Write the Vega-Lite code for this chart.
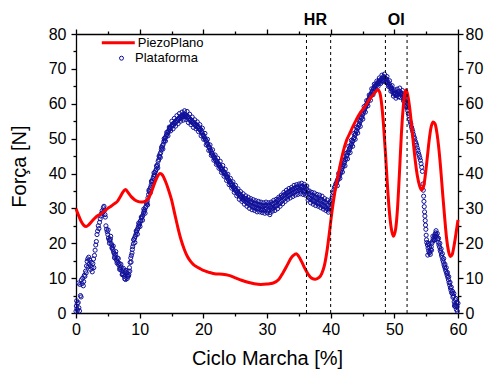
{
  "$schema": "https://vega.github.io/schema/vega-lite/v6.json",
  "autosize": {"type": "none"},
  "padding": {"left": 76, "top": 34, "right": 27, "bottom": 57},
  "width": 382,
  "height": 279,
  "background": "white",
  "config": {
    "view": {"stroke": null},
    "axis": {"domainColor": "black", "tickColor": "black", "labelColor": "black", "titleColor": "black", "labelFont": "Liberation Sans", "titleFont": "Liberation Sans", "labelFontSize": 16, "titleFontSize": 20, "titleFontWeight": "normal", "grid": false, "domainWidth": 1.3, "tickWidth": 1.3, "labelFlush": false, "labelOverlap": false},
    "legend": {"labelFont": "Liberation Sans", "labelFontSize": 13, "labelColor": "black", "padding": 0, "offset": 0}
  },
  "datasets": {
    "blue": [
{"x":0,"y":0.5},{"x":0.05,"y":2},{"x":0.1,"y":3.5},{"x":0.15,"y":1.2},{"x":0.2,"y":2.8},{"x":0.25,"y":0.8},{"x":0.35,"y":3},{"x":0.4,"y":8.6},{"x":0.45,"y":1.5},{"x":0.55,"y":0.6},{"x":0.6,"y":8.2},{"x":0.7,"y":5},{"x":0.8,"y":4.6},{"x":0.85,"y":9.5},{"x":0.95,"y":8.4},{"x":1.05,"y":10},{"x":1.15,"y":7.8},{"x":1.2,"y":9},{"x":1.3,"y":10.8},{"x":1.4,"y":10.5},{"x":1.5,"y":12},{"x":1.6,"y":11.5},{"x":1.65,"y":13.5},{"x":1.75,"y":14.8},{"x":1.85,"y":15.5},{"x":1.9,"y":13.2},{"x":2,"y":16},{"x":2.05,"y":14},{"x":2.15,"y":15.2},{"x":2.25,"y":13.5},{"x":2.3,"y":12.5},{"x":2.4,"y":14.5},{"x":2.5,"y":13},{"x":2.55,"y":11.8},{"x":2.65,"y":14.2},{"x":2.75,"y":15.5},{"x":2.8,"y":13},{"x":2.9,"y":16.5},{"x":3,"y":18},{"x":3.1,"y":19.5},{"x":3.2,"y":20.5},{"x":3.3,"y":22.5},{"x":3.4,"y":23.5},{"x":3.5,"y":25},{"x":3.6,"y":24.2},{"x":3.7,"y":26},{"x":3.8,"y":27},{"x":3.9,"y":27.8},{"x":4,"y":28.5},{"x":4.1,"y":29.3},{"x":4.2,"y":28.8},{"x":4.3,"y":30.2},{"x":4.4,"y":30.6},{"x":4.5,"y":29.5},{"x":4.55,"y":28.2},{"x":4.6,"y":27.5},{"x":4.7,"y":25},{"x":4.8,"y":24},{"x":4.9,"y":23.3},{"x":5,"y":22.5},{"x":5.1,"y":21.5},{"x":5.2,"y":21},{"x":5.3,"y":20.8},{"x":5.4,"y":21.2},{"x":5.5,"y":20},{"x":5.6,"y":19.5},{"x":5.7,"y":18.8},{"x":5.8,"y":18.2},{"x":5.9,"y":17.5},{"x":6,"y":17},{"x":6.1,"y":16.2},{"x":6.2,"y":16.8},{"x":6.3,"y":15.5},{"x":6.4,"y":15},{"x":6.5,"y":15.8},{"x":6.6,"y":14.5},{"x":6.7,"y":13.8},{"x":6.8,"y":14.2},{"x":6.9,"y":13},{"x":7,"y":12.5},{"x":7.1,"y":13.2},{"x":7.2,"y":12},{"x":7.3,"y":11.2},{"x":7.4,"y":12.3},{"x":7.5,"y":11},{"x":7.6,"y":10.5},{"x":7.7,"y":11.8},{"x":7.8,"y":9.6},{"x":7.9,"y":10.8},{"x":8,"y":11.5},{"x":8.1,"y":10.5},{"x":8.2,"y":12},{"x":8.3,"y":11},{"x":8.4,"y":13},{"x":8.5,"y":14.5},{"x":8.6,"y":15.8},{"x":8.7,"y":16.5},{"x":8.8,"y":17.2},{"x":8.9,"y":19},{"x":9,"y":19.8},{"x":9.1,"y":21},{"x":9.2,"y":21.5},{"x":9.3,"y":22},{"x":9.4,"y":22.5},{"x":9.5,"y":23.2},{"x":9.6,"y":23.8},{"x":9.7,"y":24.2},{"x":9.8,"y":24.8},{"x":9.9,"y":25.2},{"x":10,"y":25.6},{"x":10.1,"y":26.3},{"x":10.2,"y":26.5},{"x":10.3,"y":27.2},{"x":10.4,"y":27.6},{"x":10.5,"y":28},{"x":10.6,"y":28.7},{"x":10.7,"y":29.2},{"x":10.8,"y":29.5},{"x":10.9,"y":30.2},{"x":11,"y":30.6},{"x":11.1,"y":31.3},{"x":11.2,"y":32},{"x":11.3,"y":33},{"x":11.4,"y":34},{"x":11.5,"y":34.8},{"x":11.6,"y":35.5},{"x":11.7,"y":36},{"x":11.8,"y":36.7},{"x":11.9,"y":37.5},{"x":12,"y":38},{"x":12.1,"y":38.6},{"x":12.2,"y":39.2},{"x":12.3,"y":39.6},{"x":12.4,"y":40.3},{"x":12.5,"y":40.7},{"x":12.6,"y":41.2},{"x":12.7,"y":42},{"x":12.8,"y":42.5},{"x":12.9,"y":43.5},{"x":13,"y":44},{"x":13.1,"y":44.8},{"x":13.2,"y":45.6},{"x":13.3,"y":46},{"x":13.4,"y":46.8},{"x":13.5,"y":47.3},{"x":13.6,"y":48},{"x":13.7,"y":48.4},{"x":13.8,"y":49.2},{"x":13.9,"y":49.6},{"x":14,"y":50.2},{"x":14.1,"y":50.5},{"x":14.2,"y":51},{"x":14.3,"y":51.2},{"x":14.4,"y":51.8},{"x":14.5,"y":52},{"x":14.6,"y":52.5},{"x":14.7,"y":52.8},{"x":14.8,"y":53.2},{"x":14.9,"y":53},{"x":15,"y":53.6},{"x":15.1,"y":53.9},{"x":15.2,"y":54.2},{"x":15.3,"y":53.8},{"x":15.4,"y":54.5},{"x":15.5,"y":54.3},{"x":15.6,"y":55},{"x":15.7,"y":54.6},{"x":15.8,"y":55.3},{"x":15.9,"y":55.1},{"x":16,"y":55.6},{"x":16.1,"y":55.4},{"x":16.2,"y":56},{"x":16.3,"y":55.7},{"x":16.4,"y":56.3},{"x":16.5,"y":56},{"x":16.6,"y":56.6},{"x":16.7,"y":56.2},{"x":16.8,"y":56.8},{"x":16.9,"y":56.4},{"x":17,"y":57.1},{"x":17.1,"y":56.5},{"x":17.2,"y":56.9},{"x":17.3,"y":56.3},{"x":17.4,"y":56.7},{"x":17.5,"y":55.9},{"x":17.6,"y":56.3},{"x":17.7,"y":55.6},{"x":17.8,"y":55.9},{"x":17.9,"y":55.2},{"x":18,"y":55.5},{"x":18.1,"y":54.8},{"x":18.2,"y":55.1},{"x":18.3,"y":54.5},{"x":18.4,"y":54.8},{"x":18.5,"y":54.2},{"x":18.6,"y":54.5},{"x":18.7,"y":53.8},{"x":18.8,"y":54.1},{"x":18.9,"y":53.5},{"x":19,"y":53.9},{"x":19.1,"y":53.2},{"x":19.2,"y":53.5},{"x":19.3,"y":52.8},{"x":19.4,"y":53},{"x":19.5,"y":52.4},{"x":19.6,"y":52.6},{"x":19.7,"y":51.8},{"x":19.8,"y":51.9},{"x":19.9,"y":51.2},{"x":20,"y":51},{"x":20.1,"y":50.6},{"x":20.2,"y":50.2},{"x":20.3,"y":49.9},{"x":20.4,"y":49.5},{"x":20.5,"y":49.3},{"x":20.6,"y":48.7},{"x":20.7,"y":48.4},{"x":20.8,"y":47.8},{"x":20.9,"y":47.6},{"x":21,"y":47.2},{"x":21.1,"y":46.7},{"x":21.2,"y":46.5},{"x":21.3,"y":45.9},{"x":21.4,"y":45.7},{"x":21.5,"y":45.2},{"x":21.6,"y":45},{"x":21.7,"y":44.4},{"x":21.8,"y":44.6},{"x":21.9,"y":43.9},{"x":22,"y":43.8},{"x":22.1,"y":43.2},{"x":22.2,"y":43.4},{"x":22.3,"y":42.7},{"x":22.4,"y":42.8},{"x":22.5,"y":42.2},{"x":22.6,"y":42.3},{"x":22.7,"y":41.6},{"x":22.8,"y":41.7},{"x":22.9,"y":41},{"x":23,"y":41.2},{"x":23.1,"y":40.5},{"x":23.2,"y":40.6},{"x":23.3,"y":40},{"x":23.4,"y":40.2},{"x":23.5,"y":39.5},{"x":23.6,"y":39.6},{"x":23.7,"y":38.9},{"x":23.8,"y":39},{"x":23.9,"y":38.3},{"x":24,"y":38.2},{"x":24.1,"y":37.6},{"x":24.2,"y":37.7},{"x":24.3,"y":37},{"x":24.4,"y":37.2},{"x":24.5,"y":36.5},{"x":24.6,"y":36.8},{"x":24.7,"y":36},{"x":24.8,"y":36.2},{"x":24.9,"y":35.4},{"x":25,"y":35.8},{"x":25.1,"y":35},{"x":25.2,"y":35.2},{"x":25.3,"y":34.4},{"x":25.4,"y":34.8},{"x":25.5,"y":34},{"x":25.6,"y":34.3},{"x":25.7,"y":33.5},{"x":25.8,"y":33.9},{"x":25.9,"y":33.2},{"x":26,"y":33.6},{"x":26.1,"y":32.7},{"x":26.2,"y":33.3},{"x":26.3,"y":32.4},{"x":26.4,"y":33},{"x":26.5,"y":32.1},{"x":26.6,"y":32.8},{"x":26.7,"y":31.8},{"x":26.8,"y":32.5},{"x":26.9,"y":31.5},{"x":27,"y":32.4},{"x":27.1,"y":31.2},{"x":27.2,"y":32.3},{"x":27.3,"y":31},{"x":27.4,"y":31.8},{"x":27.5,"y":30.8},{"x":27.6,"y":31.9},{"x":27.7,"y":30.5},{"x":27.8,"y":31.6},{"x":27.9,"y":30.3},{"x":28,"y":31.5},{"x":28.1,"y":30.1},{"x":28.2,"y":31.4},{"x":28.3,"y":30},{"x":28.4,"y":31.2},{"x":28.5,"y":29.8},{"x":28.6,"y":31},{"x":28.7,"y":30},{"x":28.8,"y":31.1},{"x":28.9,"y":29.7},{"x":29,"y":30.8},{"x":29.1,"y":29.5},{"x":29.2,"y":30.9},{"x":29.3,"y":29.8},{"x":29.4,"y":30.6},{"x":29.5,"y":29.4},{"x":29.6,"y":30.8},{"x":29.7,"y":29.6},{"x":29.8,"y":31},{"x":29.9,"y":29.8},{"x":30,"y":30.7},{"x":30.1,"y":29.3},{"x":30.2,"y":30.9},{"x":30.3,"y":29.5},{"x":30.4,"y":31},{"x":30.5,"y":28.8},{"x":30.6,"y":30.5},{"x":30.7,"y":29.8},{"x":30.8,"y":31.3},{"x":30.9,"y":30},{"x":31,"y":31.4},{"x":31.1,"y":30.2},{"x":31.2,"y":31.6},{"x":31.3,"y":30.5},{"x":31.4,"y":31.8},{"x":31.5,"y":30.7},{"x":31.6,"y":32.2},{"x":31.7,"y":31},{"x":31.8,"y":32.5},{"x":31.9,"y":31.3},{"x":32,"y":32.8},{"x":32.1,"y":31.6},{"x":32.2,"y":33.1},{"x":32.3,"y":32},{"x":32.4,"y":33.4},{"x":32.5,"y":32.3},{"x":32.6,"y":33.8},{"x":32.7,"y":32.7},{"x":32.8,"y":34},{"x":32.9,"y":33},{"x":33,"y":34.3},{"x":33.1,"y":33.2},{"x":33.2,"y":34.5},{"x":33.3,"y":33.6},{"x":33.4,"y":34.8},{"x":33.5,"y":33.8},{"x":33.6,"y":35},{"x":33.7,"y":34},{"x":33.8,"y":35.2},{"x":33.9,"y":34.3},{"x":34,"y":35.4},{"x":34.1,"y":34.5},{"x":34.2,"y":35.7},{"x":34.3,"y":34.6},{"x":34.4,"y":35.9},{"x":34.5,"y":34.8},{"x":34.6,"y":36},{"x":34.7,"y":35},{"x":34.8,"y":36.2},{"x":34.9,"y":35.1},{"x":35,"y":35.8},{"x":35.1,"y":35.3},{"x":35.2,"y":36.4},{"x":35.3,"y":35},{"x":35.4,"y":36.1},{"x":35.5,"y":35.3},{"x":35.6,"y":36.3},{"x":35.7,"y":34.8},{"x":35.8,"y":35.9},{"x":35.9,"y":35.1},{"x":36,"y":36.2},{"x":36.1,"y":34.6},{"x":36.2,"y":35.5},{"x":36.3,"y":34},{"x":36.4,"y":35},{"x":36.5,"y":33.2},{"x":36.6,"y":34.3},{"x":36.7,"y":32.8},{"x":36.8,"y":33.9},{"x":36.9,"y":32.5},{"x":37,"y":33.6},{"x":37.1,"y":32.3},{"x":37.2,"y":33.8},{"x":37.3,"y":32.1},{"x":37.4,"y":33.5},{"x":37.5,"y":31.9},{"x":37.6,"y":33.2},{"x":37.7,"y":31.7},{"x":37.8,"y":33},{"x":37.9,"y":31.5},{"x":38,"y":32.8},{"x":38.1,"y":31.4},{"x":38.2,"y":33},{"x":38.3,"y":31.2},{"x":38.4,"y":32.5},{"x":38.5,"y":31},{"x":38.6,"y":32.6},{"x":38.7,"y":30.8},{"x":38.8,"y":32.2},{"x":38.9,"y":30.6},{"x":39,"y":31.9},{"x":39.1,"y":30.4},{"x":39.2,"y":31.7},{"x":39.3,"y":30.1},{"x":39.4,"y":31.5},{"x":39.5,"y":29.8},{"x":39.6,"y":31},{"x":39.7,"y":29.5},{"x":39.8,"y":30.4},{"x":39.9,"y":29.9},{"x":40,"y":31.5},{"x":40.1,"y":32.2},{"x":40.2,"y":33},{"x":40.3,"y":33.8},{"x":40.4,"y":34.5},{"x":40.5,"y":35.3},{"x":40.6,"y":36},{"x":40.7,"y":36.3},{"x":40.8,"y":37},{"x":40.9,"y":37.2},{"x":41,"y":37.8},{"x":41.1,"y":38.2},{"x":41.2,"y":38.6},{"x":41.3,"y":39.1},{"x":41.4,"y":39.5},{"x":41.5,"y":40},{"x":41.6,"y":40.4},{"x":41.7,"y":41},{"x":41.8,"y":41.5},{"x":41.9,"y":42},{"x":42,"y":42.4},{"x":42.1,"y":43},{"x":42.2,"y":43.4},{"x":42.3,"y":44},{"x":42.4,"y":44.3},{"x":42.5,"y":45},{"x":42.6,"y":45.3},{"x":42.7,"y":46},{"x":42.8,"y":46.3},{"x":42.9,"y":46.8},{"x":43,"y":47.2},{"x":43.1,"y":47.6},{"x":43.2,"y":48.2},{"x":43.3,"y":48.5},{"x":43.4,"y":49.1},{"x":43.5,"y":49.4},{"x":43.6,"y":50},{"x":43.7,"y":50.3},{"x":43.8,"y":51},{"x":43.9,"y":51.3},{"x":44,"y":52},{"x":44.1,"y":52.3},{"x":44.2,"y":52.9},{"x":44.3,"y":53.2},{"x":44.4,"y":53.8},{"x":44.5,"y":54.2},{"x":44.6,"y":54.8},{"x":44.7,"y":55.2},{"x":44.8,"y":55.9},{"x":44.9,"y":56.2},{"x":45,"y":56.8},{"x":45.1,"y":57.3},{"x":45.2,"y":57.8},{"x":45.3,"y":58.3},{"x":45.4,"y":58.8},{"x":45.5,"y":59.1},{"x":45.6,"y":59.7},{"x":45.7,"y":60},{"x":45.8,"y":60.5},{"x":45.9,"y":60.9},{"x":46,"y":61.3},{"x":46.1,"y":61.8},{"x":46.2,"y":62.2},{"x":46.3,"y":62.6},{"x":46.4,"y":63},{"x":46.5,"y":63.5},{"x":46.6,"y":63.7},{"x":46.7,"y":64.2},{"x":46.8,"y":64.5},{"x":46.9,"y":64.9},{"x":47,"y":65.1},{"x":47.1,"y":65.5},{"x":47.2,"y":65.2},{"x":47.3,"y":65.8},{"x":47.4,"y":66.1},{"x":47.5,"y":65.7},{"x":47.6,"y":66.4},{"x":47.7,"y":66.7},{"x":47.8,"y":66.2},{"x":47.9,"y":66.9},{"x":48,"y":67.2},{"x":48.1,"y":66.6},{"x":48.2,"y":67.4},{"x":48.3,"y":67.8},{"x":48.4,"y":67},{"x":48.5,"y":67.6},{"x":48.6,"y":67.3},{"x":48.7,"y":66.5},{"x":48.8,"y":67},{"x":48.9,"y":66},{"x":49,"y":66.3},{"x":49.1,"y":65.4},{"x":49.2,"y":65.7},{"x":49.3,"y":64.8},{"x":49.4,"y":65},{"x":49.5,"y":64.2},{"x":49.6,"y":64.4},{"x":49.7,"y":63.5},{"x":49.8,"y":63.8},{"x":49.9,"y":62.9},{"x":50,"y":63.2},{"x":50.1,"y":62.6},{"x":50.2,"y":62.9},{"x":50.3,"y":62.3},{"x":50.4,"y":63},{"x":50.5,"y":62.7},{"x":50.6,"y":63.5},{"x":50.7,"y":62.8},{"x":50.8,"y":63.6},{"x":50.9,"y":62.9},{"x":51,"y":63.3},{"x":51.1,"y":62.5},{"x":51.2,"y":62.9},{"x":51.3,"y":61.9},{"x":51.4,"y":62.3},{"x":51.5,"y":61.3},{"x":51.6,"y":61.5},{"x":51.7,"y":60.6},{"x":51.8,"y":60.2},{"x":51.9,"y":59.5},{"x":52,"y":58.8},{"x":52.1,"y":58},{"x":52.2,"y":57.2},{"x":52.3,"y":56.5},{"x":52.4,"y":55.6},{"x":52.5,"y":54.8},{"x":52.6,"y":54.2},{"x":52.7,"y":53.3},{"x":52.8,"y":52.7},{"x":52.9,"y":52},{"x":53,"y":51.2},{"x":53.1,"y":50.5},{"x":53.2,"y":50},{"x":53.3,"y":49.2},{"x":53.4,"y":48.7},{"x":53.5,"y":48.1},{"x":53.6,"y":47.3},{"x":53.7,"y":46.6},{"x":53.8,"y":45.8},{"x":53.9,"y":45.2},{"x":54,"y":44.5},{"x":54.1,"y":43.8},{"x":54.2,"y":42.8},{"x":54.3,"y":41.8},{"x":54.4,"y":40.6},{"x":54.5,"y":37},{"x":54.55,"y":35.2},{"x":54.6,"y":33.5},{"x":54.65,"y":32},{"x":54.7,"y":30.5},{"x":54.75,"y":29},{"x":54.8,"y":27.8},{"x":54.85,"y":26.5},{"x":54.9,"y":25.2},{"x":54.95,"y":24},{"x":55,"y":22.3},{"x":55.05,"y":21},{"x":55.1,"y":20.2},{"x":55.2,"y":19.5},{"x":55.3,"y":18.6},{"x":55.35,"y":20},{"x":55.4,"y":17.8},{"x":55.5,"y":17.2},{"x":55.55,"y":18.8},{"x":55.6,"y":17.5},{"x":55.7,"y":18.2},{"x":55.8,"y":19},{"x":55.9,"y":20},{"x":56,"y":20.6},{"x":56.1,"y":21.3},{"x":56.2,"y":20.8},{"x":56.3,"y":22},{"x":56.4,"y":22.6},{"x":56.5,"y":23},{"x":56.6,"y":22.4},{"x":56.7,"y":21.8},{"x":56.8,"y":21.2},{"x":56.9,"y":20.3},{"x":57,"y":19.5},{"x":57.1,"y":18.9},{"x":57.2,"y":18},{"x":57.3,"y":17.5},{"x":57.4,"y":16.6},{"x":57.5,"y":16},{"x":57.6,"y":15.2},{"x":57.7,"y":14.6},{"x":57.8,"y":13.8},{"x":57.9,"y":13.2},{"x":58,"y":12.6},{"x":58.1,"y":12},{"x":58.2,"y":11.4},{"x":58.3,"y":10.8},{"x":58.4,"y":10.2},{"x":58.5,"y":9.5},{"x":58.6,"y":8.7},{"x":58.7,"y":8},{"x":58.8,"y":7.2},{"x":58.9,"y":6.5},{"x":59,"y":5.8},{"x":59.1,"y":5.5},{"x":59.2,"y":4.5},{"x":59.3,"y":4.8},{"x":59.4,"y":3.2},{"x":59.5,"y":2.5},{"x":59.55,"y":3.8},{"x":59.6,"y":1.8},{"x":59.7,"y":2.2},{"x":59.75,"y":1},{"x":59.8,"y":3},{"x":59.9,"y":0.5},{"x":60,"y":2.8},
{"x":5.05,"y":23.8},{"x":5.25,"y":20},{"x":5.45,"y":22},{"x":5.65,"y":18.6},{"x":5.85,"y":19.2},{"x":6.05,"y":15.8},{"x":6.25,"y":17.6},{"x":6.45,"y":14.3},{"x":6.65,"y":15.6},{"x":6.85,"y":12.5},{"x":7.05,"y":14},{"x":7.25,"y":11},{"x":7.45,"y":12.8},{"x":7.65,"y":9.8},{"x":7.85,"y":12.2},{"x":8.05,"y":9.9},{"x":8.25,"y":10.6},{"x":8.45,"y":12},{"x":8.65,"y":14.6},{"x":8.85,"y":18.2},{"x":9.05,"y":21},{"x":9.25,"y":20.2},{"x":9.45,"y":23.5},{"x":9.65,"y":22.6},{"x":9.85,"y":25.8},{"x":10.05,"y":24.8},{"x":10.25,"y":27.5},{"x":10.45,"y":26.6},{"x":10.65,"y":29.8},{"x":10.85,"y":28.6},{"x":11.05,"y":31.8},{"x":11.25,"y":31},{"x":11.45,"y":35.2},{"x":11.65,"y":34.4},{"x":11.85,"y":37.8},{"x":12.05,"y":37},{"x":12.25,"y":40.2},{"x":12.45,"y":39.4},{"x":12.65,"y":42.2},{"x":12.85,"y":41.6},{"x":13.05,"y":45},{"x":13.25,"y":44.6},{"x":13.45,"y":47.6},{"x":13.65,"y":47},{"x":13.85,"y":50},{"x":14.05,"y":49.3},{"x":14.25,"y":51.8},{"x":14.45,"y":50.8},{"x":14.65,"y":53.3},{"x":14.85,"y":52.2},
{"x":15.05,"y":55},{"x":15.25,"y":52.8},{"x":15.45,"y":55.8},{"x":15.65,"y":53.6},{"x":15.85,"y":56.6},{"x":16.05,"y":54.3},{"x":16.25,"y":57.2},{"x":16.45,"y":55},{"x":16.65,"y":57.6},{"x":16.85,"y":55.3},{"x":17.05,"y":58},{"x":17.25,"y":55.5},{"x":17.45,"y":57.8},{"x":17.65,"y":54.6},{"x":17.85,"y":57},{"x":18.05,"y":54},{"x":18.25,"y":56.2},{"x":18.45,"y":53.2},{"x":18.65,"y":55.4},{"x":18.85,"y":52.8},{"x":19.05,"y":54.8},{"x":19.25,"y":52},{"x":19.45,"y":54},{"x":19.65,"y":50.8},{"x":19.85,"y":53},{"x":20.05,"y":49.8},{"x":20.25,"y":51.5},{"x":20.45,"y":48.2},{"x":20.65,"y":49.8},{"x":20.85,"y":46.6},{"x":21.05,"y":48.2},{"x":21.25,"y":45.2},{"x":21.45,"y":46.8},{"x":21.65,"y":43.8},{"x":21.85,"y":45.3},{"x":22.05,"y":42.6},{"x":22.25,"y":44.4},{"x":22.45,"y":41.5},{"x":22.65,"y":43.5},{"x":22.85,"y":40.3},{"x":23.05,"y":42.3},{"x":23.25,"y":39.2},{"x":23.45,"y":41.2},{"x":23.65,"y":38},{"x":23.85,"y":39.8},{"x":24.05,"y":36.8},{"x":24.25,"y":38.6},{"x":24.45,"y":35.8},{"x":24.65,"y":37.6},{"x":24.85,"y":34.6},{"x":25.05,"y":36.6},{"x":25.25,"y":33.6},{"x":25.45,"y":35.6},{"x":25.65,"y":32.6},{"x":25.85,"y":34.8},{"x":26.05,"y":32},{"x":26.25,"y":34.2},{"x":26.45,"y":31.2},{"x":26.65,"y":33.6},{"x":26.85,"y":30.6},{"x":27.05,"y":33.2},{"x":27.25,"y":30},{"x":27.45,"y":32.8},{"x":27.65,"y":29.6},{"x":27.85,"y":32.5},{"x":28.05,"y":29.4},{"x":28.25,"y":32.2},{"x":28.45,"y":29},{"x":28.65,"y":32},{"x":28.85,"y":29},{"x":29.05,"y":31.8},{"x":29.25,"y":28.8},{"x":29.45,"y":31.6},{"x":29.65,"y":28.6},{"x":29.85,"y":31.8},{"x":30.05,"y":28.7},{"x":30.25,"y":31.6},{"x":30.45,"y":28.2},{"x":30.65,"y":31.8},{"x":30.85,"y":29.2},{"x":31.05,"y":32.3},{"x":31.25,"y":29.4},{"x":31.45,"y":32.6},{"x":31.65,"y":29.9},{"x":31.85,"y":33.2},{"x":32.05,"y":30.6},{"x":32.25,"y":33.8},{"x":32.45,"y":31.3},{"x":32.65,"y":34.6},{"x":32.85,"y":32},{"x":33.05,"y":35.2},{"x":33.25,"y":32.6},{"x":33.45,"y":35.7},{"x":33.65,"y":33},{"x":33.85,"y":36},{"x":34.05,"y":33.4},{"x":34.25,"y":36.6},{"x":34.45,"y":33.8},{"x":34.65,"y":36.8},{"x":34.85,"y":34},{"x":35.05,"y":37},{"x":35.25,"y":34.2},{"x":35.45,"y":37.2},{"x":35.65,"y":34},{"x":35.85,"y":36.9},{"x":36.05,"y":33.8},{"x":36.25,"y":36.4},{"x":36.45,"y":32.4},{"x":36.65,"y":35},{"x":36.85,"y":31.6},{"x":37.05,"y":34.6},{"x":37.25,"y":31.2},{"x":37.45,"y":34.4},{"x":37.65,"y":30.8},{"x":37.85,"y":34},{"x":38.05,"y":30.6},{"x":38.25,"y":33.8},{"x":38.45,"y":30.2},{"x":38.65,"y":33.5},{"x":38.85,"y":29.8},{"x":39.05,"y":32.8},{"x":39.25,"y":29.4},{"x":39.45,"y":32.4},{"x":39.65,"y":28.9},{"x":39.85,"y":31.8},{"x":40.05,"y":30.2},
{"x":41.05,"y":36.5},{"x":41.25,"y":40},{"x":41.45,"y":38.6},{"x":41.65,"y":41.8},{"x":41.85,"y":40.4},{"x":42.05,"y":43.8},{"x":42.25,"y":42.2},{"x":42.45,"y":45.8},{"x":42.65,"y":44.2},{"x":42.85,"y":47.8},{"x":43.05,"y":46},{"x":43.25,"y":49.5},{"x":43.45,"y":47.8},{"x":43.65,"y":51.5},{"x":43.85,"y":49.8},{"x":44.05,"y":53.3},{"x":44.25,"y":51.6},{"x":44.45,"y":55.3},{"x":44.65,"y":53.5},{"x":44.85,"y":57.3},{"x":45.05,"y":55.6},{"x":45.25,"y":59.2},{"x":45.45,"y":57.6},{"x":45.65,"y":60.9},{"x":45.85,"y":59.4},{"x":46.05,"y":62.5},{"x":46.25,"y":61},{"x":46.45,"y":64.3},{"x":46.65,"y":62.6},{"x":46.85,"y":65.6},{"x":47.05,"y":64},{"x":47.25,"y":66.5},{"x":47.45,"y":65},{"x":47.65,"y":67.4},{"x":47.85,"y":65.8},{"x":48.05,"y":68.2},{"x":48.25,"y":66.4},{"x":48.45,"y":68.5},{"x":48.65,"y":66.2},{"x":48.85,"y":67.8},{"x":49.05,"y":65},{"x":49.25,"y":66.6},{"x":49.45,"y":63.6},{"x":49.65,"y":65.2},{"x":49.85,"y":62.2},{"x":50.05,"y":64},{"x":50.25,"y":61.6},{"x":50.45,"y":64.2},{"x":50.65,"y":62},{"x":50.85,"y":64.5},{"x":50.95,"y":61.8},{"x":51.25,"y":63.8},{"x":51.45,"y":60.8},{"x":51.65,"y":62.4},{"x":51.85,"y":59.2},{"x":52.05,"y":60},
{"x":55.25,"y":16.6},{"x":55.45,"y":19.6},{"x":55.65,"y":16.8},{"x":55.85,"y":18},{"x":56.05,"y":22},{"x":56.25,"y":21},{"x":56.45,"y":21.8},{"x":56.55,"y":23.6},{"x":56.75,"y":22.8},{"x":56.95,"y":21.4},{"x":57.15,"y":20},{"x":57.35,"y":18.4},{"x":57.55,"y":17},{"x":57.75,"y":15.6},{"x":57.95,"y":14},{"x":58.15,"y":13},{"x":58.35,"y":11.6},{"x":58.55,"y":10.4},{"x":58.75,"y":8.8},{"x":58.95,"y":7.4},{"x":59.15,"y":6.2},{"x":59.35,"y":5.6},{"x":59.45,"y":2},{"x":59.65,"y":4.2},{"x":59.85,"y":1.8}
    ],
    "red": [
{"x":0,"y":29.9},{"x":0.4,"y":28},{"x":0.8,"y":26.3},{"x":1.2,"y":25.2},{"x":1.6,"y":24.8},{"x":2,"y":25.3},{"x":2.5,"y":26.3},{"x":3,"y":27.3},{"x":3.5,"y":28},{"x":4,"y":28.5},{"x":4.5,"y":29.3},{"x":5,"y":30},{"x":5.5,"y":30.6},{"x":6,"y":31.3},{"x":6.5,"y":32},{"x":7,"y":33.5},{"x":7.5,"y":35},{"x":7.8,"y":35.4},{"x":8.2,"y":34.5},{"x":8.7,"y":33.3},{"x":9.2,"y":32.5},{"x":9.7,"y":32},{"x":10.2,"y":31.8},{"x":10.7,"y":31.9},{"x":11.2,"y":32.5},{"x":11.7,"y":34},{"x":12.2,"y":36.5},{"x":12.7,"y":38.8},{"x":13.2,"y":40},{"x":13.6,"y":39.5},{"x":14,"y":38},{"x":14.5,"y":35.5},{"x":15,"y":32.5},{"x":15.5,"y":28.5},{"x":16,"y":24.5},{"x":16.5,"y":21},{"x":17,"y":18.3},{"x":17.5,"y":16.2},{"x":18,"y":14.8},{"x":18.5,"y":13.8},{"x":19,"y":13.2},{"x":19.5,"y":12.7},{"x":20,"y":12.2},{"x":20.5,"y":11.9},{"x":21,"y":11.6},{"x":22,"y":11.2},{"x":23,"y":11.1},{"x":24,"y":10.8},{"x":25,"y":10.1},{"x":26,"y":9.4},{"x":27,"y":8.8},{"x":28,"y":8.4},{"x":29,"y":8.2},{"x":30,"y":8.3},{"x":31,"y":8.6},{"x":31.8,"y":9.5},{"x":32.5,"y":11.5},{"x":33.2,"y":13.8},{"x":33.8,"y":15.8},{"x":34.2,"y":16.6},{"x":34.6,"y":17},{"x":35,"y":16.2},{"x":35.5,"y":14.5},{"x":36,"y":12.6},{"x":36.5,"y":11},{"x":37,"y":10},{"x":37.6,"y":9.7},{"x":38.2,"y":10.2},{"x":38.6,"y":11.3},{"x":39,"y":13.5},{"x":39.4,"y":17.5},{"x":39.8,"y":23},{"x":40.2,"y":29},{"x":40.6,"y":34},{"x":41,"y":38},{"x":41.5,"y":42.5},{"x":42,"y":46.5},{"x":42.5,"y":49.5},{"x":43,"y":51.5},{"x":43.5,"y":53.5},{"x":44,"y":55.3},{"x":44.5,"y":57},{"x":45,"y":58.3},{"x":45.5,"y":59.5},{"x":46,"y":61},{"x":46.5,"y":62.2},{"x":47,"y":63.3},{"x":47.4,"y":64},{"x":47.7,"y":63.3},{"x":48,"y":60},{"x":48.3,"y":54},{"x":48.6,"y":46},{"x":48.9,"y":37},{"x":49.2,"y":29.5},{"x":49.5,"y":24.5},{"x":49.85,"y":22},{"x":50.2,"y":24},{"x":50.5,"y":30},{"x":50.8,"y":40},{"x":51.1,"y":51},{"x":51.4,"y":59},{"x":51.7,"y":63.5},{"x":51.85,"y":64},{"x":52.1,"y":62.5},{"x":52.4,"y":59},{"x":52.7,"y":54},{"x":53,"y":48.5},{"x":53.3,"y":43.5},{"x":53.6,"y":39.5},{"x":54,"y":36.3},{"x":54.3,"y":35.3},{"x":54.6,"y":36.3},{"x":54.9,"y":40},{"x":55.2,"y":45},{"x":55.5,"y":50},{"x":55.8,"y":53.5},{"x":56.1,"y":54.8},{"x":56.4,"y":54.2},{"x":56.7,"y":51.5},{"x":57,"y":47},{"x":57.3,"y":41},{"x":57.6,"y":34},{"x":57.9,"y":27.5},{"x":58.2,"y":21.5},{"x":58.5,"y":17.8},{"x":58.8,"y":16.2},{"x":59.1,"y":16.8},{"x":59.4,"y":19.5},{"x":59.7,"y":23},{"x":60,"y":26.7}
    ],
    "markers": [{"x": 36.2}, {"x": 40}, {"x": 48.6}, {"x": 52}],
    "labels": [{"x": 37.6, "label": "HR"}, {"x": 50.3, "label": "OI"}]
  },
  "layer": [
    {
      "data": {"name": "blue"},
      "mark": {"type": "point", "shape": "circle", "filled": false, "size": 17, "strokeWidth": 1, "opacity": 1},
      "encoding": {
        "x": {"field": "x", "type": "quantitative", "scale": {"domain": [0, 60], "nice": false, "zero": false},
          "axis": {"orient": "bottom", "values": [0, 10, 20, 30, 40, 50, 60], "tickSize": 5, "labelPadding": 3, "title": "Ciclo Marcha [%]", "titlePadding": 11}},
        "y": {"field": "y", "type": "quantitative", "scale": {"domain": [0, 80], "nice": false},
          "axis": {"orient": "left", "values": [0, 10, 20, 30, 40, 50, 60, 70, 80], "tickSize": 5, "labelPadding": 5, "title": "Força [N]", "titlePadding": 19, "titleY": 132}},
        "color": {"datum": "Plataforma", "scale": {"range": ["#10109a"]},
          "legend": {"orient": "none", "legendX": 39, "legendY": 17.7, "title": null, "symbolType": "circle", "symbolSize": 16, "symbolStrokeWidth": 1, "labelOffset": 7}}
      }
    },
    {
      "data": {"name": "red"},
      "mark": {"type": "line", "strokeWidth": 3, "interpolate": "monotone"},
      "encoding": {
        "x": {"field": "x", "type": "quantitative", "scale": {"domain": [0, 60], "nice": false, "zero": false},
          "axis": {"orient": "bottom", "values": [5, 15, 25, 35, 45, 55], "tickSize": 3, "labels": false, "domain": false, "title": null}},
        "y": {"field": "y", "type": "quantitative", "scale": {"domain": [0, 80], "nice": false},
          "axis": {"orient": "left", "values": [5, 15, 25, 35, 45, 55, 65, 75], "tickSize": 3, "labels": false, "domain": false, "title": null}},
        "color": {"datum": "PiezoPlano", "scale": {"range": ["#ff0000"]},
          "legend": {"orient": "none", "legendX": 24.3, "legendY": -9.2, "title": null, "symbolType": "stroke", "symbolSize": 1089, "symbolStrokeWidth": 3, "labelOffset": 1.5}}
      }
    },
    {
      "data": {"name": "markers"},
      "mark": {"type": "rule", "strokeDash": [3, 3], "strokeWidth": 1, "color": "black"},
      "encoding": {
        "x": {"field": "x", "type": "quantitative", "scale": {"domain": [0, 60], "nice": false, "zero": false},
          "axis": {"orient": "top", "values": [0, 10, 20, 30, 40, 50, 60], "tickSize": 5, "labels": false, "title": null}},
        "y": {"datum": 0, "type": "quantitative", "scale": {"domain": [0, 80], "nice": false},
          "axis": {"orient": "right", "values": [0, 10, 20, 30, 40, 50, 60, 70, 80], "tickSize": 5, "labelPadding": 2, "title": null}},
        "y2": {"datum": 80}
      }
    },
    {
      "data": {"name": "labels"},
      "mark": {"type": "text", "font": "Liberation Sans", "fontSize": 16, "fontWeight": "bold", "baseline": "middle", "align": "center", "color": "black"},
      "encoding": {
        "x": {"field": "x", "type": "quantitative", "scale": {"domain": [0, 60], "nice": false, "zero": false},
          "axis": {"orient": "top", "values": [5, 15, 25, 35, 45, 55], "tickSize": 3, "labels": false, "domain": false, "title": null}},
        "y": {"datum": 84, "type": "quantitative", "scale": {"domain": [0, 80], "nice": false},
          "axis": {"orient": "right", "values": [5, 15, 25, 35, 45, 55, 65, 75], "tickSize": 3, "labels": false, "domain": false, "title": null}},
        "text": {"field": "label"}
      }
    }
  ],
  "resolve": {"axis": {"x": "independent", "y": "independent"}, "scale": {"color": "independent"}}
}
